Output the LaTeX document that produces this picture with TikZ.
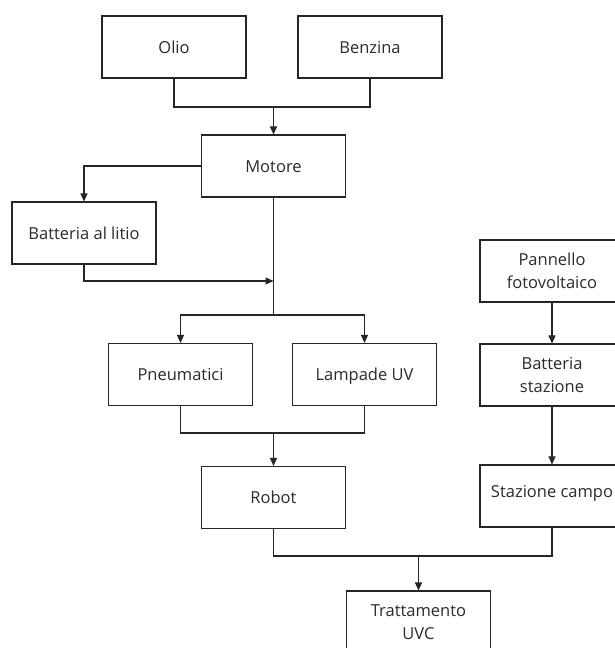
\documentclass[tikz,border=0pt]{standalone}
\usepackage{fontspec}
\setmainfont{Open Sans}
\usetikzlibrary{arrows.meta}
\definecolor{txt}{HTML}{2B2B2B}
\tikzset{
  box/.style={draw=black!85, line width=1.1pt, minimum width=144pt, minimum height=62pt,
    inner sep=0pt, font=\fontsize{16.5}{23}\selectfont, text=txt, align=center},
  one/.style={text height=12pt, text depth=0pt},
  conn/.style={draw=black!85, line width=1.1pt},
  arr/.style={conn, -{Triangle[length=8pt,width=7pt]}}
}
\begin{document}
\begin{tikzpicture}[x=1pt,y=-1pt]
\useasboundingbox[fill=white] (0,0) rectangle (614,648);
\node[box,one] (olio) at (174,47) {Olio};
\node[box,one] (benz) at (370,47) {Benzina};
\node[box,one] (mot) at (273.5,166) {Motore};
\node[box,one] (lit) at (84,233) {Batteria al litio};
\node[box] (pan) at (552,271) {Pannello\\fotovoltaico};
\node[box,one] (pneu) at (180.5,374.5) {Pneumatici};
\node[box,one] (lamp) at (364.5,374.5) {Lampade UV};
\node[box] (bst) at (552,375) {Batteria\\stazione};
\node[box,one] (rob) at (273.5,497.5) {Robot};
\node[box,one] (stc) at (552,496) {\raisebox{4.5pt}{Stazione campo}};
\node[box] (uvc) at (418.5,622) {Trattamento\\UVC};

\coordinate (j1) at (273.5,107);
\coordinate (s1) at (273.5,315);
\coordinate (m1) at (273.5,281);
\coordinate (j2) at (273.5,433);
\coordinate (j3) at (418.5,556);

\draw[conn] (olio.south) |- (j1) -| (benz.south);
\draw[arr] (j1) -- (mot.north);
\draw[arr] (mot.west) -| (lit.north);
\draw[conn] (mot.south) -- (s1);
\draw[arr] (s1) -| (pneu.north);
\draw[arr] (s1) -| (lamp.north);
\draw[arr] (lit.south) |- (m1);
\draw[conn] (pneu.south) |- (j2) -| (lamp.south);
\draw[arr] (j2) -- (rob.north);
\draw[arr] (pan) -- (bst);
\draw[arr] (bst) -- (stc);
\draw[conn] (rob.south) |- (j3) -| (stc.south);
\draw[arr] (j3) -- (uvc.north);
\end{tikzpicture}
\end{document}
